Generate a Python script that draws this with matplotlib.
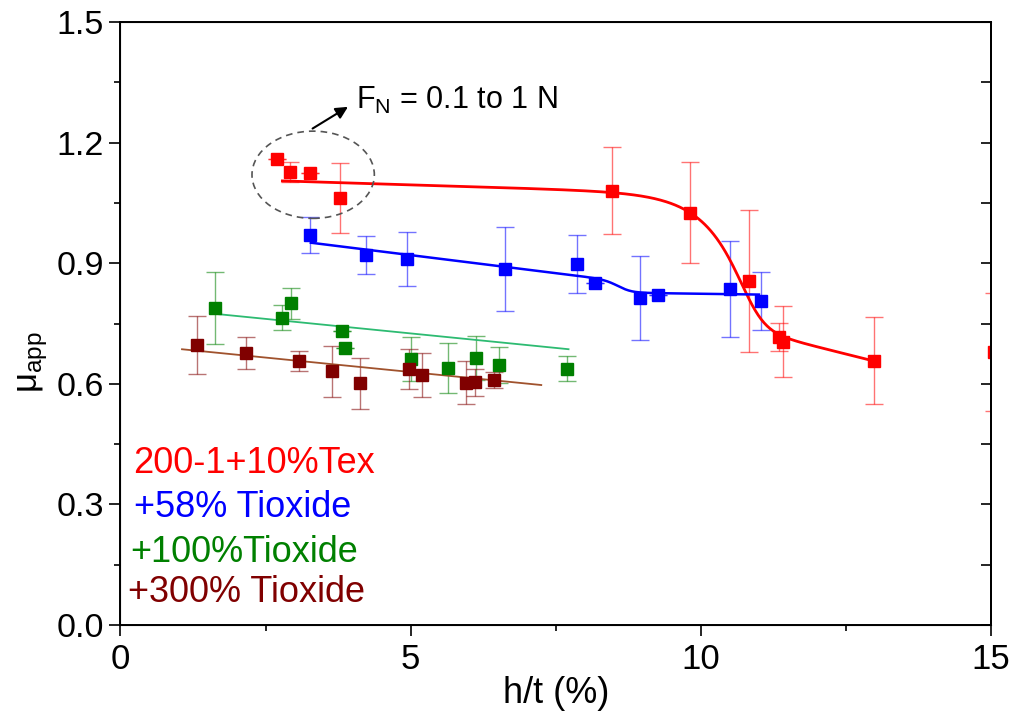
import numpy as np
import matplotlib
matplotlib.use("Agg")
import matplotlib.pyplot as plt
from matplotlib.patches import Ellipse
from matplotlib.ticker import MultipleLocator

plt.rcParams['font.family'] = ['Liberation Sans', 'DejaVu Sans']
plt.rcParams['mathtext.fontset'] = 'custom'
plt.rcParams['mathtext.rm'] = 'Liberation Sans'
plt.rcParams['mathtext.it'] = 'Liberation Sans:italic'

# ---- data ----
red_x = [2.69, 2.92, 3.27, 3.79, 8.47, 9.81, 10.83, 11.35, 11.42, 12.98, 15.05]
red_y = [1.159, 1.126, 1.125, 1.063, 1.080, 1.026, 0.855, 0.717, 0.705, 0.657, 0.679]
red_e = [0.0, 0.025, 0.0, 0.087, 0.108, 0.126, 0.177, 0.035, 0.088, 0.108, 0.146]

blue_x = [3.26, 4.23, 4.93, 6.62, 7.86, 8.17, 8.96, 9.27, 10.51, 11.04]
blue_y = [0.970, 0.920, 0.910, 0.885, 0.898, 0.851, 0.813, 0.820, 0.835, 0.806]
blue_e = [0.044, 0.048, 0.067, 0.104, 0.071, 0.0, 0.105, 0.0, 0.119, 0.073]

green_x = [1.62, 2.78, 2.93, 3.82, 3.86, 5.00, 5.64, 6.12, 6.53, 7.69]
green_y = [0.789, 0.764, 0.800, 0.731, 0.689, 0.662, 0.640, 0.665, 0.646, 0.637]
green_e = [0.09, 0.031, 0.039, 0.0, 0.0, 0.054, 0.062, 0.055, 0.045, 0.031]

brown_x = [1.32, 2.16, 3.07, 3.64, 4.12, 4.97, 5.20, 5.95, 6.10, 6.43]
brown_y = [0.697, 0.677, 0.656, 0.631, 0.601, 0.637, 0.621, 0.603, 0.604, 0.609]
brown_e = [0.072, 0.040, 0.025, 0.064, 0.063, 0.050, 0.055, 0.053, 0.034, 0.020]

# fit parameters (sigmoidal transition between two sloped lines)
red_fit = dict(x_range=(2.79, 12.98), a1=1.117, b1=-0.0044, a2=1.124, b2=-0.036,
               x0=10.886, w=0.175, nu=0.3)
blue_fit = dict(x_range=(3.28, 11.0), a1=1.0097, b1=-0.0179, a2=0.844, b2=-0.002,
                x0=8.6, w=0.12, nu=1.0)
green_fit = dict(x_range=(1.70, 7.72), a=0.7976, b=-0.01445)
brown_fit = dict(x_range=(1.06, 7.25), a=0.7012, b=-0.01438)

legend_labels = ["200-1+10%Tex", "+58% Tioxide", "+100%Tioxide", "+300% Tioxide"]
colors = ["#ff0000", "#0000ff", "#008000", "#800000"]

x_ticks = [0, 5, 10, 15]
y_ticks = [0.0, 0.3, 0.6, 0.9, 1.2, 1.5]


def sig_curve(p, n=400):
    x = np.linspace(p['x_range'][0], p['x_range'][1], n)
    s = (1.0 + np.exp(-(x - p['x0']) / p['w'])) ** (-p['nu'])
    y = (p['a1'] + p['b1'] * x) * (1 - s) + (p['a2'] + p['b2'] * x) * s
    return x, y


def lin_curve(p, n=50):
    x = np.linspace(p['x_range'][0], p['x_range'][1], n)
    return x, p['a'] + p['b'] * x


fig = plt.figure(figsize=(10.15, 7.15), dpi=100)
ax = fig.add_axes([0.1187, 0.1259, 0.9764 - 0.1187, 0.9692 - 0.1259])

ax.set_xlim(0, 15)
ax.set_ylim(0, 1.5)

series = [(red_x, red_y, red_e), (blue_x, blue_y, blue_e),
          (green_x, green_y, green_e), (brown_x, brown_y, brown_e)]
for (xs, ys, es), c in zip(series, colors):
    ax.errorbar(xs, ys, yerr=es, fmt='none', ecolor=c, elinewidth=1.0,
                capsize=6.5, capthick=1.0, alpha=0.55, zorder=2)

fx, fy = sig_curve(red_fit)
ax.plot(fx, fy, color="#ff0000", lw=2.0, zorder=3)
fx, fy = sig_curve(blue_fit)
ax.plot(fx, fy, color="#0000ff", lw=1.8, zorder=3)
fx, fy = lin_curve(green_fit)
ax.plot(fx, fy, color="#2dbb72", lw=1.3, zorder=3)
fx, fy = lin_curve(brown_fit)
ax.plot(fx, fy, color="#a0522d", lw=1.3, zorder=3)

for (xs, ys, es), c in zip(series, colors):
    ax.plot(xs, ys, linestyle='none', marker='s', markersize=8.5,
            color=c, markeredgecolor=c, zorder=4)

# ticks
ax.set_xticks(x_ticks)
ax.set_yticks(y_ticks)
ax.set_xticklabels([str(t) for t in x_ticks])
ax.set_yticklabels([f"{t:.1f}" for t in y_ticks])
ax.xaxis.set_minor_locator(MultipleLocator(2.5))
ax.yaxis.set_minor_locator(MultipleLocator(0.15))
ax.tick_params(axis='both', which='major', direction='out', length=8, width=1.2,
               top=False, right=False)
ax.tick_params(axis='both', which='minor', direction='out', length=4, width=1.2,
               top=False, right=False)
ax.tick_params(axis='y', which='major', labelsize=24.5, pad=4)
ax.tick_params(axis='x', which='major', labelsize=25, pad=5)

for sp in ax.spines.values():
    sp.set_linewidth(1.4)

# right-side inward ticks
axr = ax.twinx()
axr.set_ylim(0, 1.5)
axr.yaxis.set_major_locator(MultipleLocator(0.15))
axr.tick_params(axis='y', direction='in', length=7, width=1.2, labelright=False)
axr.spines['right'].set_linewidth(1.4)

ax.set_xlabel("h/t (%)", fontsize=26, labelpad=0)
ax.set_ylabel(r"μ$_{\rm app}$", fontsize=25)
ax.yaxis.set_label_coords(-0.081, 0.436)

# annotation: dashed ellipse, arrow, text
ell = Ellipse((3.32, 1.120), width=2.108, height=0.217, fill=False,
              edgecolor='#555555', linestyle=(0, (4, 3)), lw=1.2, zorder=5)
ax.add_patch(ell)
ax.annotate("", xy=(3.92, 1.289), xytext=(3.31, 1.235),
            arrowprops=dict(arrowstyle='-|>', color='black', lw=1.5,
                            mutation_scale=18, shrinkA=0, shrinkB=0))
ax.text(4.06, 1.283, r"F$_{\rm N}$ = 0.1 to 1 N", fontsize=22, va='baseline', ha='left')

# legend-like coloured labels (data coordinates of text baselines)
leg_x = [0.21, 0.23, 0.16, 0.13]
leg_y = [0.377, 0.268, 0.157, 0.058]
for lx, ly, txt, c in zip(leg_x, leg_y, legend_labels, colors):
    ax.text(lx, ly, txt, color=c, fontsize=26, va='baseline', ha='left')

fig.savefig("out.png", dpi=100)
